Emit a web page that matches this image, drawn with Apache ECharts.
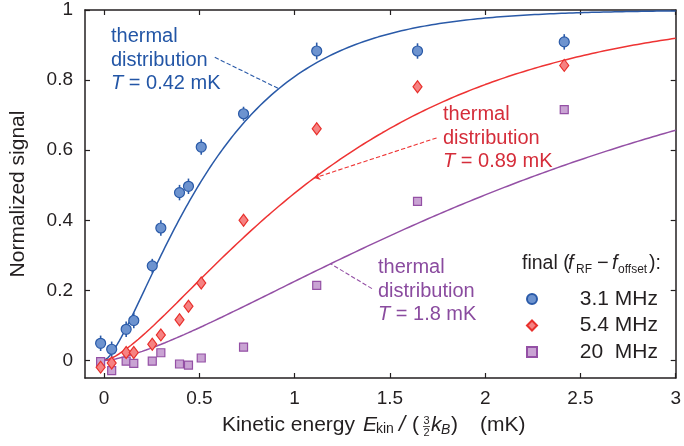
<!DOCTYPE html>
<html>
<head>
<meta charset="utf-8">
<script src="https://cdn.jsdelivr.net/npm/echarts@6/dist/echarts.min.js"></script>
<style>
  html, body { margin: 0; padding: 0; background: #fff; }
  #chart { width: 684px; height: 446px; }
</style>
</head>
<body>
<div id="chart"></div>
<script>
// Kinetic energy E_kin/(3/2 k_B) of each measurement (mK)
const energy = [-0.018, 0.040, 0.116, 0.156, 0.253, 0.298, 0.396, 0.443, 0.510, 0.732, 1.116, 1.645, 2.415];
// Normalized signal for each final RF detuning
const signal31 = [0.049, 0.032, 0.089, 0.114, 0.270, 0.378, 0.479, 0.497, 0.609, 0.704, 0.883, 0.883, 0.909];
const error31 = [0.022, 0.022, 0.022, 0.022, 0.020, 0.022, 0.022, 0.022, 0.022, 0.020, 0.024, 0.022, 0.022];
const signal54 = [-0.019, -0.007, 0.023, 0.023, 0.046, 0.073, 0.116, 0.155, 0.221, 0.400, 0.661, 0.781, 0.842];
const signal20 = [-0.003, -0.029, -0.002, -0.008, -0.002, 0.022, -0.010, -0.013, 0.007, 0.038, 0.214, 0.454, 0.716];
const seriesNames = ['3.1 MHz', '5.4 MHz', '20  MHz'];
// Temperatures of the thermal-distribution curves (mK)
const temperatures = [0.42, 0.89, 1.8];
const tempLabels = ['0.42', '0.89', '1.8'];
// Axis ticks
const xTicks = [0, 0.5, 1, 1.5, 2, 2.5, 3];
const yTicks = [0, 0.2, 0.4, 0.6, 0.8, 1];

const INK = '#231f20';
const BLUE = '#2a5aa8', RED = '#ee3333', PURPLE = '#9450a5';
const TXT_BLUE = '#2356a6', TXT_RED = '#d52d3a', TXT_PURPLE = '#8a4b9f';
const FONT = 'Liberation Sans, Arial, sans-serif';

// error function (Abramowitz & Stegun 7.1.26)
function erf(x) {
  const s = x < 0 ? -1 : 1; x = Math.abs(x);
  const t = 1 / (1 + 0.3275911 * x);
  const y = 1 - (((((1.061405429 * t - 1.453152027) * t) + 1.421413741) * t - 0.284496736) * t + 0.254829592) * t * Math.exp(-x * x);
  return s * y;
}
// fraction of a 3D thermal distribution with energy below e
function thermal(e, T) {
  if (e <= 0) return 0;
  const u = e / T;
  return erf(Math.sqrt(u)) - 2 * Math.sqrt(u / Math.PI) * Math.exp(-u);
}
function curve(T) {
  const pts = [];
  for (let i = 0; i <= 300; i++) { const e = i / 100; pts.push([e, thermal(e, T)]); }
  return pts;
}
const zip = (xs, ys) => xs.map((x, i) => [x, ys[i]]);

const chart = echarts.init(document.getElementById('chart'), null, { renderer: 'canvas' });

const dashed = { type: 'dashed', width: 1.1 };
const axisLine = { show: true, onZero: false, lineStyle: { color: INK, width: 1.5 } };
const tick = vals => ({ show: true, inside: true, length: 5, customValues: vals, lineStyle: { color: INK, width: 1.2 } });

const option = {
  animation: false,
  textStyle: { fontFamily: FONT },
  grid: { left: 83, right: 6, top: 10, bottom: 68, containLabel: false },
  xAxis: [{
    type: 'value', min: -0.1, max: 3, position: 'bottom',
    axisLine: axisLine, axisTick: tick(xTicks),
    axisLabel: { show: true, customValues: xTicks, color: INK, fontSize: 19, margin: 11,
      formatter: v => String(v) },
    splitLine: { show: false }
  }, {
    type: 'value', min: -0.1, max: 3, position: 'top',
    axisLine: axisLine, axisTick: tick(xTicks),
    axisLabel: { show: false }, splitLine: { show: false }
  }],
  yAxis: [{
    type: 'value', min: -0.05, max: 1, position: 'left',
    name: 'Normalized signal', nameLocation: 'middle', nameGap: 56,
    nameTextStyle: { color: INK, fontSize: 21 },
    axisLine: axisLine, axisTick: tick(yTicks),
    axisLabel: { show: true, customValues: yTicks, color: INK, fontSize: 19, margin: 12,
      formatter: v => String(v) },
    splitLine: { show: false }
  }, {
    type: 'value', min: -0.05, max: 1, position: 'right',
    axisLine: axisLine, axisTick: tick(yTicks),
    axisLabel: { show: false }, splitLine: { show: false }
  }],
  legend: {
    orient: 'vertical', left: 521, top: 283.5, itemGap: 5.5, padding: 5,
    itemWidth: 10, itemHeight: 10, selectedMode: false,
    data: seriesNames,
    formatter: name => '{v|' + name + '}',
    textStyle: { color: INK, fontSize: 21,
      rich: { v: { width: 116, align: 'right', fontSize: 21, color: INK } } }
  },
  series: [
    {
      type: 'line', name: 'T1', data: curve(temperatures[0]), showSymbol: false, z: 2,
      lineStyle: { color: BLUE, width: 1.5 }, silent: true,
      markLine: { silent: true, symbol: ['none', 'none'], label: { show: false },
        lineStyle: Object.assign({ color: BLUE }, dashed),
        data: [[{ coord: [0.581, 0.865] }, { coord: [0.917, thermal(0.917, temperatures[0])] }]] }
    },
    {
      type: 'line', name: 'T2', data: curve(temperatures[1]), showSymbol: false, z: 2,
      lineStyle: { color: RED, width: 1.5 }, silent: true,
      markLine: { silent: true, symbol: ['none', 'arrow'], symbolSize: 6, label: { show: false },
        lineStyle: Object.assign({ color: RED }, dashed),
        data: [[{ coord: [1.745, 0.635] }, { coord: [1.102, thermal(1.102, temperatures[1])] }]] }
    },
    {
      type: 'line', name: 'T3', data: curve(temperatures[2]), showSymbol: false, z: 2,
      lineStyle: { color: PURPLE, width: 1.5 }, silent: true,
      markLine: { silent: true, symbol: ['none', 'none'], label: { show: false },
        lineStyle: Object.assign({ color: PURPLE }, dashed),
        data: [[{ coord: [1.406, 0.205] }, { coord: [1.189, thermal(1.189, temperatures[2])] }]] }
    },
    {
      // vertical error bars of the 3.1 MHz data
      type: 'custom', name: 'err31', z: 3, silent: true,
      data: energy.map((e, i) => [e, signal31[i], error31[i]]),
      renderItem: (params, api) => {
        const x = api.value(0), y = api.value(1), d = api.value(2);
        const p0 = api.coord([x, y - d]), p1 = api.coord([x, y + d]);
        return { type: 'line', shape: { x1: p0[0], y1: p0[1], x2: p1[0], y2: p1[1] },
          style: { stroke: BLUE, lineWidth: 1.6 } };
      }
    },
    {
      type: 'scatter', name: seriesNames[2], data: zip(energy, signal20), z: 4,
      symbol: 'rect', symbolSize: 8,
      itemStyle: { color: '#c9a3d3', borderColor: '#9450a5', borderWidth: 1.2, opacity: 1 }
    },
    {
      type: 'scatter', name: seriesNames[1], data: zip(energy, signal54), z: 5,
      symbol: 'diamond', symbolSize: [9, 12],
      itemStyle: { color: '#f68282', borderColor: '#e8302c', borderWidth: 1.2, opacity: 1 }
    },
    {
      type: 'scatter', name: seriesNames[0], data: zip(energy, signal31), z: 6,
      symbol: 'circle', symbolSize: 10,
      itemStyle: { color: '#6d93cf', borderColor: '#2a5aa8', borderWidth: 1.2, opacity: 1 }
    }
  ]
};

chart.setOption(option);

// Annotation texts and composite titles
function note(x, y, T, color) {
  return {
    type: 'text', left: x, top: y, z: 10, silent: true,
    style: {
      text: 'thermal\ndistribution\n{i|T} = ' + T + ' mK',
      fill: color, font: '20px ' + FONT, lineHeight: 23.5,
      rich: { i: { fontStyle: 'italic', fontSize: 20, fill: color, fontFamily: FONT } }
    }
  };
}
// text placed by its baseline
function t(x, base, text, size, opts) {
  return {
    type: 'text', x: x, y: base - 0.31 * size, silent: true, z: 10,
    style: Object.assign({ text: text, fill: INK, fontSize: size, fontFamily: FONT,
      verticalAlign: 'middle', align: 'left' }, opts || {})
  };
}
const baseY = 432;
const headY = 270;
const graphics = [
  note(111, 25, tempLabels[0], TXT_BLUE),
  note(443, 103, tempLabels[1], TXT_RED),
  note(378, 256, tempLabels[2], TXT_PURPLE),
  // x-axis title: Kinetic energy E_kin / (3/2 k_B) (mK)
  t(355, baseY, 'Kinetic energy', 21, { align: 'right' }),
  t(363, baseY, 'E', 21, { fontStyle: 'italic' }),
  t(376, baseY + 1, 'kin', 14),
  t(399, baseY, '/', 22, { fontStyle: 'italic' }),
  t(412, baseY, '(', 21),
  t(426.5, baseY - 7.5, '3', 11, { align: 'center' }),
  { type: 'line', silent: true, z: 10, shape: { x1: 423, y1: baseY - 5.5, x2: 430, y2: baseY - 5.5 },
    style: { stroke: INK, lineWidth: 0.8 } },
  t(426.5, baseY + 4.5, '2', 11, { align: 'center' }),
  t(431, baseY, 'k', 21, { fontStyle: 'italic' }),
  t(441, baseY + 2, 'B', 14, { fontStyle: 'italic' }),
  t(451, baseY, ')', 21),
  t(480, baseY, '(mK)', 21),
  // legend heading: final (f_RF − f_offset):
  t(522, headY, 'final (', 19.5),
  t(568, headY, 'f', 20, { fontStyle: 'italic' }),
  t(576, headY + 3, 'RF', 12),
  t(597, headY, '\u2212', 20),
  t(612, headY, 'f', 20, { fontStyle: 'italic' }),
  t(618, headY + 3, 'offset', 12),
  t(649, headY, '):', 19.5)
];
chart.setOption({ graphic: graphics });
</script>
</body>
</html>
